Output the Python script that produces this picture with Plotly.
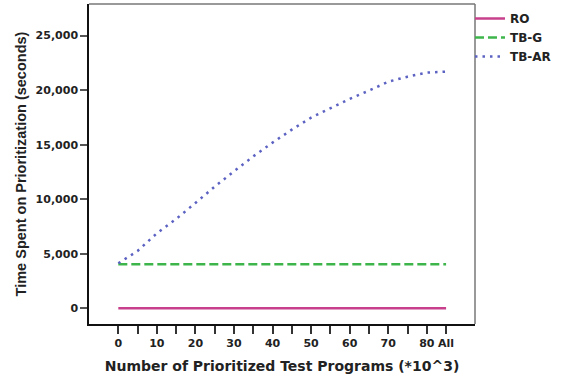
import plotly.graph_objects as go

# Number of prioritized test programs (*10^3); the last point is "All"
x_pos = [0, 5, 10, 15, 20, 25, 30, 35, 40, 45, 50, 55, 60, 65, 70, 75, 80, 85]
x_labels = ["0", "", "10", "", "20", "", "30", "", "40", "", "50", "", "60", "", "70", "", "80", "All"]

# Time spent on prioritization (seconds)
ro = [30] * len(x_pos)
tb_g = [4050] * len(x_pos)
tb_ar = [4140, 5270, 6890, 8200, 9660, 11160, 12560, 13930, 15190, 16380,
         17480, 18330, 19190, 19950, 20770, 21230, 21600, 21690]

y_ticks = [0, 5000, 10000, 15000, 20000, 25000]

WIDE = "DejaVu Sans, Verdana, sans-serif"
NARROW = "Liberation Sans, Arial, sans-serif"
INK = "#222222"

fig = go.Figure()
fig.add_trace(go.Scatter(x=x_pos, y=ro, mode="lines", name="RO",
                         line=dict(color="#c8408c", width=2.5)))
fig.add_trace(go.Scatter(x=x_pos, y=tb_g, mode="lines", name="TB-G",
                         line=dict(color="#3db54a", width=2.5, dash="9px,4px")))
fig.add_trace(go.Scatter(x=x_pos, y=tb_ar, mode="lines", name="TB-AR",
                         line=dict(color="#5c62c2", width=2.5, dash="2.5px,5px")))

# thin grey top/right border of the plotting frame
fig.add_shape(type="line", xref="paper", yref="paper", x0=0, x1=1, y0=1, y1=1,
              line=dict(color="#777777", width=1.5))
fig.add_shape(type="line", xref="paper", yref="paper", x0=1, x1=1, y0=0, y1=1,
              line=dict(color="#777777", width=1.5))

fig.update_layout(
    width=564, height=381,
    margin=dict(l=89, r=89, t=4, b=57),
    paper_bgcolor="white", plot_bgcolor="white",
    font=dict(family=WIDE, size=11, color=INK, weight="bold"),
    showlegend=True,
    legend=dict(x=0.987, xanchor="left", y=1.0, yanchor="top",
                font=dict(family=WIDE, size=12, color=INK, weight="bold"),
                bgcolor="rgba(0,0,0,0)", itemwidth=30, tracegroupgap=0),
    xaxis=dict(
        range=[-7.6, 92.5],
        tickmode="array", tickvals=x_pos, ticktext=x_labels,
        ticks="outside", ticklen=8, tickwidth=1.5, tickcolor="#333333",
        showline=True, linecolor="#111111", linewidth=1.5,
        showgrid=False, zeroline=False,
        tickfont=dict(family=WIDE, size=11, color=INK, weight="bold"),
        title=dict(text="Number of Prioritized Test Programs (*10^3)",
                   font=dict(family=WIDE, size=14, color=INK, weight="bold"),
                   standoff=12),
    ),
    yaxis=dict(
        range=[-1420, 27885],
        tickmode="array", tickvals=y_ticks, tickformat=",d",
        ticks="outside", ticklen=7, tickwidth=1.5, tickcolor="#555555",
        showline=True, linecolor="#111111", linewidth=1.5,
        showgrid=False, zeroline=False,
        tickfont=dict(family=WIDE, size=11, color=INK, weight="bold"),
        title=dict(text="Time Spent on Prioritization (seconds)",
                   font=dict(family=NARROW, size=14.5, color=INK, weight="bold"),
                   standoff=6),
    ),
)

fig.write_html("out.html")
